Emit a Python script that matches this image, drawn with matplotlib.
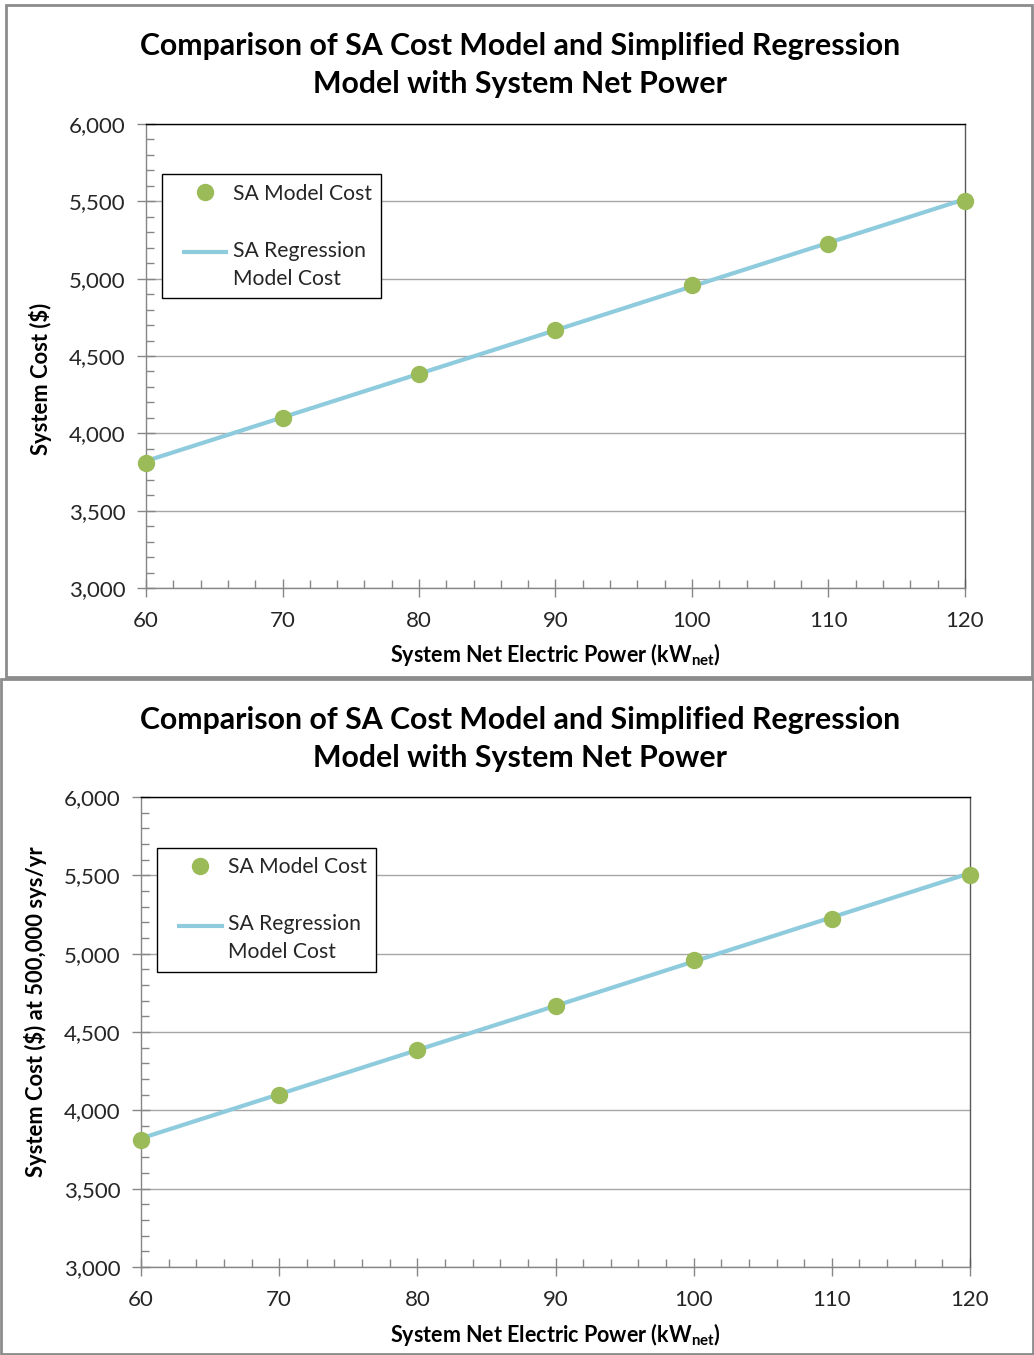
import matplotlib
matplotlib.use("Agg")
import matplotlib.pyplot as plt
from matplotlib.patches import Rectangle
from matplotlib.ticker import MultipleLocator, FuncFormatter
from matplotlib.legend_handler import HandlerLine2D

plt.rcParams['font.family'] = ['Lato', 'DejaVu Sans']

# data
net_power = [60, 70, 80, 90, 100, 110, 120]
sa_model_cost = [3808, 4099, 4384, 4668, 4959, 5224, 5502]
regression_cost = [3821, 4103, 4385, 4667, 4950, 5232, 5514]

title = "Comparison of SA Cost Model and Simplified Regression\nModel with System Net Power"
xlabel = "System Net Electric Power (kW$_{\\mathregular{net}}$)"
ylabels = ["System Cost ($)", "System Cost ($) at 500,000 sys/yr"]

DOT = '#9BBB59'
LINE = '#8ECBDD'
GRID = '#A6A6A6'

W, H = 1034, 1355
fig = plt.figure(figsize=(W / 100, H / 100), dpi=100)


class ShiftedHandler(HandlerLine2D):
    # excel puts the legend key next to the first line of a wrapped label
    def __init__(self, shift=0, **kw):
        super().__init__(**kw)
        self.shift = shift

    def create_artists(self, legend, orig_handle, xdescent, ydescent, width, height, fontsize, trans):
        arts = super().create_artists(legend, orig_handle, xdescent, ydescent, width, height,
                                      fontsize, trans)
        for a in arts:
            a.set_ydata([y + self.shift for y in a.get_ydata()])
        return arts


def px(x0, y0, x1, y1):
    # pixel box -> figure fraction [left, bottom, width, height]
    return [x0 / W, 1 - y1 / H, (x1 - x0) / W, (y1 - y0) / H]


def draw_panel(box, ax_box, ylabel, title_y, ylabel_xy, xlabel_y):
    fig.patches.append(Rectangle((box[0], box[1]), box[2], box[3], transform=fig.transFigure,
                                 fill=False, edgecolor='#8C8C8C', linewidth=2, zorder=0))
    ax = fig.add_axes(ax_box)
    reg_line, = ax.plot(net_power, regression_cost, color=LINE, linewidth=3,
                        label="SA Regression\nModel Cost", zorder=3, solid_capstyle='butt')
    dots, = ax.plot(net_power, sa_model_cost, 'o', color=DOT, markersize=11.5, label="SA Model Cost",
                    zorder=4, clip_on=False)
    ax.set_xlim(60, 120)
    ax.set_ylim(3000, 6000)
    ax.xaxis.set_major_locator(MultipleLocator(10))
    ax.xaxis.set_minor_locator(MultipleLocator(2))
    ax.yaxis.set_major_locator(MultipleLocator(500))
    ax.yaxis.set_minor_locator(MultipleLocator(100))
    ax.yaxis.set_major_formatter(FuncFormatter(lambda v, p: f"{int(v):,}"))
    ax.grid(axis='y', which='major', color=GRID, linewidth=1)
    ax.set_axisbelow(True)
    ax.spines['top'].set_color('black')
    ax.spines['right'].set_color('#595959')
    ax.spines['left'].set_color('#868686')
    ax.spines['bottom'].set_color('#868686')
    for s in ax.spines.values():
        s.set_linewidth(1)
    ax.tick_params(which='major', direction='inout', length=13, width=1, color='#868686',
                   labelsize=16, labelcolor='#262626')
    ax.tick_params(which='minor', direction='in', length=6, width=1, color='#868686')
    ax.tick_params(axis='y', which='major', pad=8)
    ax.tick_params(axis='x', which='major', pad=10)

    fig.text(0.503, title_y, title, ha='center', va='center', fontsize=21.8, fontweight='bold',
             linespacing=1.42)
    fig.text(ylabel_xy[0], ylabel_xy[1], ylabel, rotation=90, ha='center', va='center',
             fontsize=15.8, fontweight='bold')
    fig.text(0.537, xlabel_y, xlabel, ha='center', va='center', fontsize=15.5, fontweight='bold')

    leg = ax.legend([dots, reg_line], [dots.get_label(), reg_line.get_label()],
                    loc='upper left', bbox_to_anchor=(0.0195, 0.892),
                    handler_map={dots: ShiftedHandler(xpad=0.48),
                                 reg_line: ShiftedHandler(shift=9.5, xpad=0.48)},
                    fancybox=False, edgecolor='black', framealpha=1, fontsize=15.2,
                    borderpad=0.45, labelspacing=1.75, handlelength=2.7, handletextpad=0.2,
                    borderaxespad=0)
    leg.get_frame().set_linewidth(1)
    for t in leg.get_texts():
        t.set_color('#262626')
        t.set_linespacing(1.5)
    return ax


draw_panel([6 / W, 1 - 677 / H, 1026 / W, 672 / H], px(146, 124, 965, 588), ylabels[0],
           1 - 65 / H, (41 / W, 1 - 379 / H), 1 - 655 / H)
draw_panel([1 / W, 1 / H, 1032 / W, 675 / H], px(141, 797, 970, 1267), ylabels[1],
           1 - 739 / H, (36 / W, 1 - 1012 / H), 1 - 1335 / H)

fig.savefig("out.png", dpi=100)
